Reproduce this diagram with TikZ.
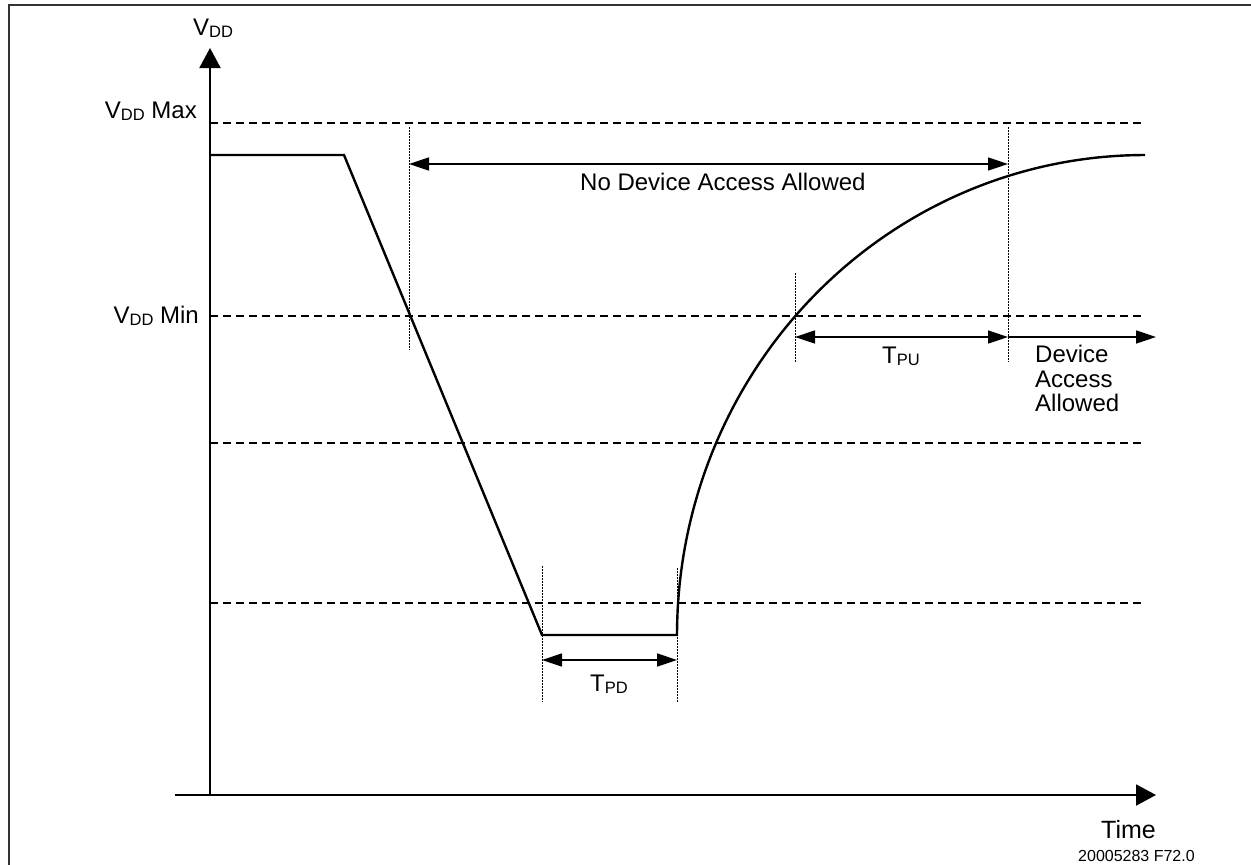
\documentclass[tikz,border=0pt]{standalone}
\usepackage{fontspec}
\setmainfont{Liberation Sans}
\usetikzlibrary{arrows.meta}
\newcommand{\sbs}[1]{\raisebox{-2.3pt}{\fontsize{16.5}{17}\selectfont #1}}
\tikzset{
  lbl/.style={inner sep=0pt, font=\fontsize{24}{24.5}\selectfont},
  guide/.style={line width=1.4pt, dash pattern=on 8pt off 5pt},
  mark line/.style={line width=0.9pt, dash pattern=on 2pt off 1pt},
  signal/.style={line width=2.4pt, line join=miter},
  axis/.style={line width=2pt, -{Triangle[length=20pt,width=21pt]}},
  dim/.style={line width=1.5pt, {Triangle[length=20pt,width=13pt]}-{Triangle[length=20pt,width=13pt]}},
  dimr/.style={line width=1.5pt, -{Triangle[length=20pt,width=13pt]}},
  frame/.style={line width=1.6pt, draw=black!80}
}
\begin{document}
\begin{tikzpicture}[x=1pt,y=-1pt]
\useasboundingbox (0,0) rectangle (1251,865);
% frame
\coordinate (fbl) at (9,866);
\coordinate (ftl) at (9,5);
\coordinate (ftr) at (1252,5);
\draw[frame] (fbl) -- (ftl) -- (ftr);
% axes
\coordinate (o) at (210,795);
\coordinate (ytip) at (210,48);
\coordinate (xs) at (175,795);
\coordinate (xtip) at (1156,795);
\draw[axis] (o) -- (ytip);
\draw[axis] (xs) -- (xtip);
% guide lines
\foreach \n/\y in {max/123, min/316, g3/443, g4/603}{
  \coordinate (\n L) at (210,\y);
  \coordinate (\n R) at (1145,\y);
  \draw[guide] (\n L) -- (\n R);
}
% marker lines
\coordinate (m1t) at (409,127); \coordinate (m1b) at (409,350);
\coordinate (m2t) at (1008,127); \coordinate (m2b) at (1008,362);
\coordinate (m3t) at (795,273); \coordinate (m3b) at (795,362);
\coordinate (m4t) at (542,566); \coordinate (m4b) at (542,702);
\coordinate (m5t) at (677,568); \coordinate (m5b) at (677,702);
\foreach \a/\b in {m1t/m1b, m2t/m2b, m3t/m3b, m4t/m4b, m5t/m5b}
  \draw[mark line] (\a) -- (\b);
% signal
\coordinate (s0) at (210,155);
\coordinate (s1) at (344,155);
\coordinate (s2) at (542,635);
\coordinate (s3) at (677,635);
\draw[signal] (s0) -- (s1) -- (s2) -- (s3)
  -- plot[domain=180:270, samples=120] ({1145+468*cos(\x)}, {635+480*sin(\x)});
% dimension arrows
\coordinate (na1) at (409,164); \coordinate (na2) at (1008,164);
\draw[dim] (na1) -- (na2);
\coordinate (pu1) at (795,337); \coordinate (pu2) at (1008,337);
\draw[dim] (pu1) -- (pu2);
\coordinate (da2) at (1156,337);
\draw[dimr] (pu2) -- (da2);
\coordinate (pd1) at (542,660); \coordinate (pd2) at (677,660);
\draw[dim] (pd1) -- (pd2);
% labels
\node[lbl, anchor=base west] (vdd) at (193,35) {V\sbs{DD}};
\node[lbl, anchor=base east] (vmax) at (197,118) {V\sbs{DD} Max};
\node[lbl, anchor=base east] (vmin) at (199,323) {V\sbs{DD} Min};
\node[lbl, anchor=base west] (nda) at (580,190) {No Device Access Allowed};
\node[lbl, anchor=base west] (tpu) at (882,363) {T\sbs{PU}};
\node[lbl, anchor=base west] (tpd) at (590,691) {T\sbs{PD}};
\node[lbl, anchor=base west] (daa1) at (1035,362) {Device};
\node[lbl, anchor=base west] (daa2) at (1035,387) {Access};
\node[lbl, anchor=base west] (daa3) at (1035,411) {Allowed};
\node[inner sep=0pt, anchor=base west, font=\fontsize{25}{25}\selectfont] (time) at (1101,838) {Time};
\node[inner sep=0pt, anchor=base west, font=\fontsize{16}{16}\selectfont] (fig) at (1078,861) {20005283 F72.0};
\end{tikzpicture}
\end{document}
